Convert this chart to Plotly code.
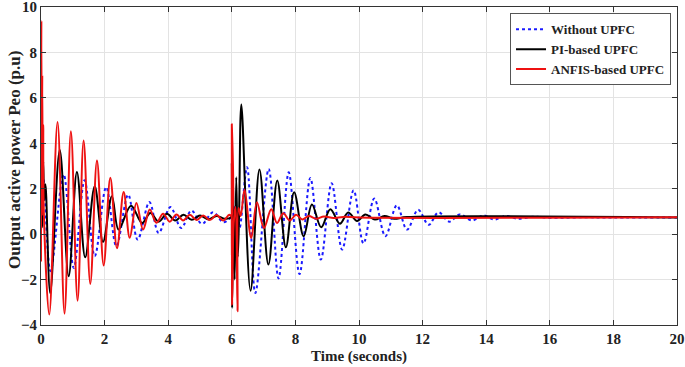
import plotly.graph_objects as go

# ---- data (peaks / troughs of each response) ----
t_without = [0, 0.04, 0.08, 0.30, 0.71, 1.03, 1.37, 1.69, 2.05, 2.37, 2.74, 3.04, 3.41, 3.70,
             4.07, 4.41, 4.73, 5.06, 5.41, 5.74, 5.98, 6.02, 6.07, 6.12, 6.18, 6.25, 6.48, 6.74,
             7.16, 7.47, 7.79, 8.13, 8.47, 8.80, 9.14, 9.47, 9.83, 10.14, 10.48, 10.83, 11.19,
             11.51, 11.86, 12.19, 12.50, 12.84, 13.17, 13.55, 13.92, 14.25, 14.6, 15.0, 15.5,
             16.0, 17.0, 18.0, 20.0]
p_without = [0.7, 2.6, 2.4, -1.63, 2.63, -1.49, 2.37, -0.97, 2.07, -0.53, 1.74, -0.24, 1.41, 0.05,
             1.19, 0.27, 1.04, 0.45, 0.96, 0.52, 0.7, 0.2, 1.2, -0.5, 1.0, 0.3, 2.95, -2.59,
             2.87, -1.95, 2.72, -1.76, 2.47, -1.12, 2.24, -0.68, 1.93, -0.41, 1.57, -0.09, 1.27,
             0.2, 1.07, 0.41, 0.96, 0.55, 0.87, 0.6, 0.82, 0.64, 0.8, 0.68, 0.77,
             0.72, 0.74, 0.73, 0.73]

t_pi = [0, 0.02, 0.04, 0.07, 0.10, 0.14, 0.29, 0.59, 0.87, 1.13, 1.39, 1.69, 1.95, 2.23, 2.44,
        2.83, 3.18, 3.44, 3.70, 3.96, 4.22, 4.48, 4.74, 5.00, 5.26, 5.52, 5.78, 5.98, 6.00, 6.01,
        6.05, 6.09, 6.14, 6.19, 6.23, 6.30, 6.59, 6.87, 7.15, 7.43, 7.70, 7.96, 8.26, 8.52, 8.81,
        9.10, 9.40, 9.66, 9.94, 10.2, 10.5, 10.8, 11.1, 11.5, 20.0]
p_pi = [0.7, 4.0, 0.3, 3.2, 1.5, 2.2, -2.59, 3.7, -1.85, 2.74, -1.02, 2.11, -0.34, 1.67, 0.2,
        1.25, 0.49, 0.93, 0.55, 0.9, 0.6, 0.85, 0.63, 0.82, 0.65, 0.8, 0.68, 0.75, 3.1, -3.25,
        1.5, -2.0, 2.5, -1.0, 1.0, 5.71, -2.49, 2.85, -1.34, 2.36, -0.58, 1.84, -0.09, 1.30, 0.30,
        1.10, 0.46, 0.95, 0.58, 0.86, 0.64, 0.8, 0.68, 0.75, 0.73]

t_anfis = [0, 0.012, 0.025, 0.04, 0.055, 0.07, 0.09, 0.26, 0.52, 0.74, 0.94, 1.15, 1.34, 1.55,
           1.76, 1.97, 2.18, 2.39, 2.60, 2.79, 3.00, 3.21, 3.42, 3.63, 3.84, 4.05, 4.26, 4.47,
           4.68, 4.89, 5.10, 5.31, 5.52, 5.73, 5.92, 5.99, 6.00, 6.01, 6.06, 6.12, 6.18, 6.21,
           6.28, 6.40, 6.61, 6.79, 7.01, 7.24, 7.42, 7.62, 7.82, 8.02, 8.22, 8.42, 8.65, 8.90,
           9.20, 9.50, 10.0, 20.0]
p_anfis = [-1.2, 9.4, 0.8, 7.0, 1.0, 4.8, 0.9, -3.54, 4.94, -3.5, 4.53, -2.93, 4.12, -2.19,
           3.24, -1.38, 2.48, -0.62, 1.86, -0.16, 1.37, 0.2, 1.08, 0.5, 0.9, 0.55, 0.87, 0.6,
           0.85, 0.62, 0.82, 0.62, 0.84, 0.6, 0.85, 0.8, 4.83, -3.1, 0.5, 1.2, -3.4, 1.15,
           0.8, 1.96, -0.17, 1.40, 0.27, 1.10, 0.49, 0.92, 0.6, 0.85, 0.65, 0.8, 0.68, 0.78,
           0.71, 0.76, 0.73, 0.74]

series_names = ["Without UPFC", "PI-based UPFC", "ANFIS-based UPFC"]
x_ticks = [0, 2, 4, 6, 8, 10, 12, 14, 16, 18, 20]
y_ticks = [-4, -2, 0, 2, 4, 6, 8, 10]
x_title = "Time (seconds)"
y_title = "Output active power Peo (p.u)"

FONT = "Liberation Serif"

fig = go.Figure()
fig.add_trace(go.Scatter(x=t_without, y=p_without, name=series_names[0], mode="lines",
                         line=dict(color="#1a1aff", width=2, dash="dot", shape="spline", smoothing=1.0)))
fig.add_trace(go.Scatter(x=t_pi, y=p_pi, name=series_names[1], mode="lines",
                         line=dict(color="black", width=2, shape="spline", smoothing=1.0)))
fig.add_trace(go.Scatter(x=t_anfis, y=p_anfis, name=series_names[2], mode="lines",
                         line=dict(color="#ee1111", width=2, shape="spline", smoothing=1.0)))

axis_common = dict(showline=True, linecolor="#333", linewidth=1, mirror="ticks",
                   ticks="inside", ticklen=5, tickcolor="#333", showgrid=True,
                   gridcolor="#e3e3e3", gridwidth=1, zeroline=False, automargin=False,
                   ticklabeloverflow="allow",
                   tickfont=dict(family=FONT, size=15, color="#222", weight="bold"))

fig.update_layout(
    width=685, height=367,
    margin=dict(l=41, r=8, t=7, b=42),
    paper_bgcolor="white", plot_bgcolor="white",
    font=dict(family=FONT, color="#222"),
    xaxis=dict(range=[0, 20], tickvals=x_ticks, **axis_common),
    yaxis=dict(range=[-4, 10], tickvals=y_ticks, **axis_common),
    legend=dict(x=0.9906, y=0.98, xanchor="right", yanchor="top",
                bgcolor="white", bordercolor="#555", borderwidth=1,
                font=dict(family=FONT, size=13, color="#222", weight="bold"),
                tracegroupgap=0, itemwidth=30),
    showlegend=True,
    annotations=[
        dict(text=x_title, xref="paper", yref="paper", x=0.5, y=-0.1,
             xanchor="center", yanchor="middle", showarrow=False,
             font=dict(family=FONT, size=15, color="#222", weight="bold")),
        dict(text=y_title, xref="paper", yref="paper", x=-0.042, y=0.52,
             xanchor="center", yanchor="middle", textangle=-90, showarrow=False,
             font=dict(family=FONT, size=17, color="#222", weight="bold")),
    ],
)

fig.write_html("out.html", config={"displayModeBar": False},
               post_script="document.body.style.margin='0';document.body.style.padding='0';")
